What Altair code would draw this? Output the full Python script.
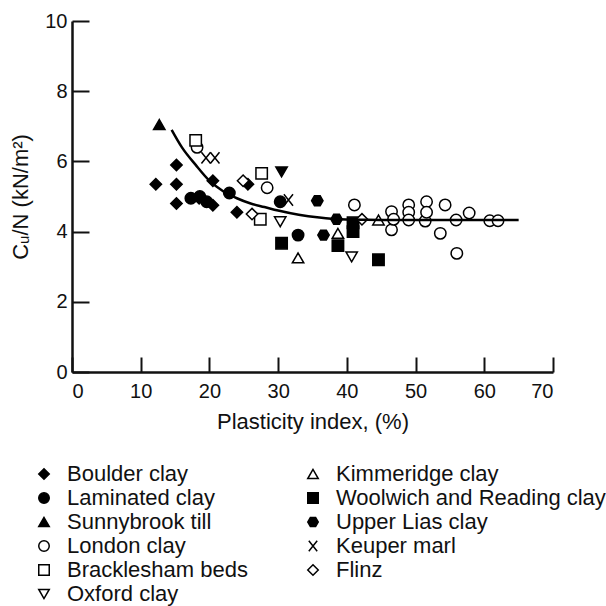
import altair as alt
import pandas as pd

# Soil groups in legend order (filled column by column)
soil_order = [
    "Boulder clay", "Laminated clay", "Sunnybrook till", "London clay",
    "Bracklesham beds", "Oxford clay",
    "Kimmeridge clay", "Woolwich and Reading clay", "Upper Lias clay",
    "Keuper marl", "Flinz",
]

HEXAGON = "M-1,0L-0.5,-0.87L0.5,-0.87L1,0L0.5,0.87L-0.5,0.87Z"
CROSS_X = "M-0.8,-1L0.8,1M-0.8,1L0.8,-1"

soil_shapes = [
    "diamond", "circle", "triangle-up", "circle",
    "square", "triangle-down",
    "triangle-up", "square", HEXAGON,
    CROSS_X, "diamond",
]
soil_fills = [
    "black", "black", "black", "white",
    "white", "white",
    "white", "black", "black",
    "transparent", "white",
]

# Measured points: plasticity index (%) and Cu/N (kN/m2)
boulder_pi = [12.2, 15.2, 15.2, 15.2, 18.5, 20.5, 20.5, 24.0, 25.6]
boulder_cn = [5.35, 5.9, 5.35, 4.8, 4.95, 4.75, 5.45, 4.55, 5.35]

laminated_pi = [17.3, 18.6, 19.6, 22.9, 30.3, 32.9]
laminated_cn = [4.95, 5.0, 4.85, 5.1, 4.85, 3.9]

sunnybrook_pi = [12.7]
sunnybrook_cn = [7.05]

london_pi = [18.2, 28.4, 41.1, 46.5, 46.5, 46.8, 49.0, 49.0, 49.0, 51.4, 51.6, 51.6,
             54.3, 53.6, 55.9, 56.0, 57.8, 60.8, 62.0]
london_cn = [6.4, 5.25, 4.76, 4.57, 4.05, 4.35, 4.76, 4.55, 4.33, 4.3, 4.85, 4.55,
             4.76, 3.95, 4.33, 3.38, 4.53, 4.31, 4.31]

bracklesham_pi = [18.0, 27.6, 27.4]
bracklesham_cn = [6.6, 5.66, 4.35]

oxford_pi = [30.3, 40.7, 30.5]
oxford_cn = [4.28, 3.28, 5.7]
oxford_solid = [False, False, True]

kimmeridge_pi = [32.9, 38.7, 44.6]
kimmeridge_cn = [3.25, 3.95, 4.33]

woolwich_pi = [30.5, 38.7, 40.9, 40.9, 44.6]
woolwich_cn = [3.67, 3.6, 4.25, 4.0, 3.2]

upper_lias_pi = [35.7, 36.6, 38.5]
upper_lias_cn = [4.88, 3.9, 4.35]

keuper_pi = [19.5, 20.8, 31.5]
keuper_cn = [6.1, 6.1, 4.9]

flinz_pi = [24.9, 26.2, 42.2]
flinz_cn = [5.45, 4.5, 4.35]

# Trend curve through the data
curve_pi = [14.5, 16.0, 18.0, 20.0, 22.0, 24.0, 26.0, 28.0, 30.0, 33.0, 36.0,
            39.0, 42.0, 46.0, 50.0, 55.0, 60.0, 65.0]
curve_cn = [6.9, 6.4, 5.9, 5.45, 5.15, 4.95, 4.8, 4.7, 4.6, 4.48, 4.4,
            4.35, 4.34, 4.33, 4.33, 4.33, 4.33, 4.33]

groups = [
    ("Boulder clay", boulder_pi, boulder_cn, None),
    ("Laminated clay", laminated_pi, laminated_cn, None),
    ("Sunnybrook till", sunnybrook_pi, sunnybrook_cn, None),
    ("London clay", london_pi, london_cn, None),
    ("Bracklesham beds", bracklesham_pi, bracklesham_cn, None),
    ("Oxford clay", oxford_pi, oxford_cn, oxford_solid),
    ("Kimmeridge clay", kimmeridge_pi, kimmeridge_cn, None),
    ("Woolwich and Reading clay", woolwich_pi, woolwich_cn, None),
    ("Upper Lias clay", upper_lias_pi, upper_lias_cn, None),
    ("Keuper marl", keuper_pi, keuper_cn, None),
    ("Flinz", flinz_pi, flinz_cn, None),
]

rows = []
for name, pis, cns, solid in groups:
    for i, (p, c) in enumerate(zip(pis, cns)):
        rows.append({"soil": name, "pi": p, "cn": c,
                     "solid": bool(solid[i]) if solid else False})
points = pd.DataFrame(rows)
curve = pd.DataFrame({"pi": curve_pi, "cn": curve_cn})

FONT = "Liberation Sans"
W, H = 481, 351

x_scale = alt.Scale(domain=[0, 70], nice=False, zero=True)
y_scale = alt.Scale(domain=[0, 10], nice=False)
no_title = alt.Legend(title=None)

scatter = alt.Chart(points).mark_point(
    filled=False, strokeWidth=1.5, opacity=1, size=130
).encode(
    x=alt.X("pi:Q", scale=x_scale,
            axis=alt.Axis(values=list(range(0, 71, 10)), ticks=False, grid=False,
                          domainWidth=2.5, domainColor="#111", labelPadding=9,
                          labelFontSize=20, labelFont=FONT, labelColor="#111",
                          title="Plasticity index, (%)", titleFontSize=22,
                          titleFont=FONT, titleFontWeight="normal",
                          titleColor="#111", titlePadding=10)),
    y=alt.Y("cn:Q", scale=y_scale,
            axis=alt.Axis(values=list(range(0, 11, 2)), ticks=False, grid=False,
                          domainWidth=2.5, domainColor="#111", labelPadding=5,
                          labelFontSize=20, labelFont=FONT, labelColor="#111",
                          title="Cᵤ/N (kN/m²)", titleFontSize=22, titleFont=FONT,
                          titleFontWeight="normal", titleColor="#111",
                          titlePadding=12)),
    shape=alt.Shape("soil:N", scale=alt.Scale(domain=soil_order, range=soil_shapes),
                    legend=no_title),
    stroke=alt.Stroke("soil:N",
                      scale=alt.Scale(domain=soil_order, range=["black"] * len(soil_order)),
                      legend=no_title),
    fill=alt.condition(
        "datum.solid",
        alt.value("black"),
        alt.Fill("soil:N", scale=alt.Scale(domain=soil_order, range=soil_fills),
                 legend=no_title),
    ),
)

trend = alt.Chart(curve).mark_line(
    color="black", strokeWidth=2.5, interpolate="monotone"
).encode(
    x=alt.X("pi:Q", scale=x_scale,
            axis=alt.Axis(orient="top", offset=-H, values=list(range(0, 71, 10)),
                          labels=False, domain=False, grid=False, tickSize=15,
                          tickWidth=2, tickColor="#111", title=None)),
    y=alt.Y("cn:Q", scale=y_scale,
            axis=alt.Axis(orient="right", offset=-W, values=list(range(0, 11, 2)),
                          labels=False, domain=False, grid=False, tickSize=17,
                          tickWidth=2, tickColor="#111", title=None)),
)

chart = alt.layer(scatter, trend).resolve_axis(
    x="independent", y="independent"
).properties(
    width=W, height=H,
    autosize=alt.AutoSizeParams(type="none"),
    padding={"left": 72, "top": 21, "right": 53, "bottom": 234},
    background="white",
).configure_view(stroke=None).configure_legend(
    orient="none", legendX=-39, legendY=442, columns=2, padding=0,
    labelFont=FONT, labelFontSize=22, labelColor="#111", labelLimit=400,
    symbolSize=110, symbolStrokeColor="black", symbolStrokeWidth=1.5,
    rowPadding=2, columnPadding=54, labelOffset=12,
)

chart.save("out.html", embed_options={"renderer": "svg", "actions": False})
